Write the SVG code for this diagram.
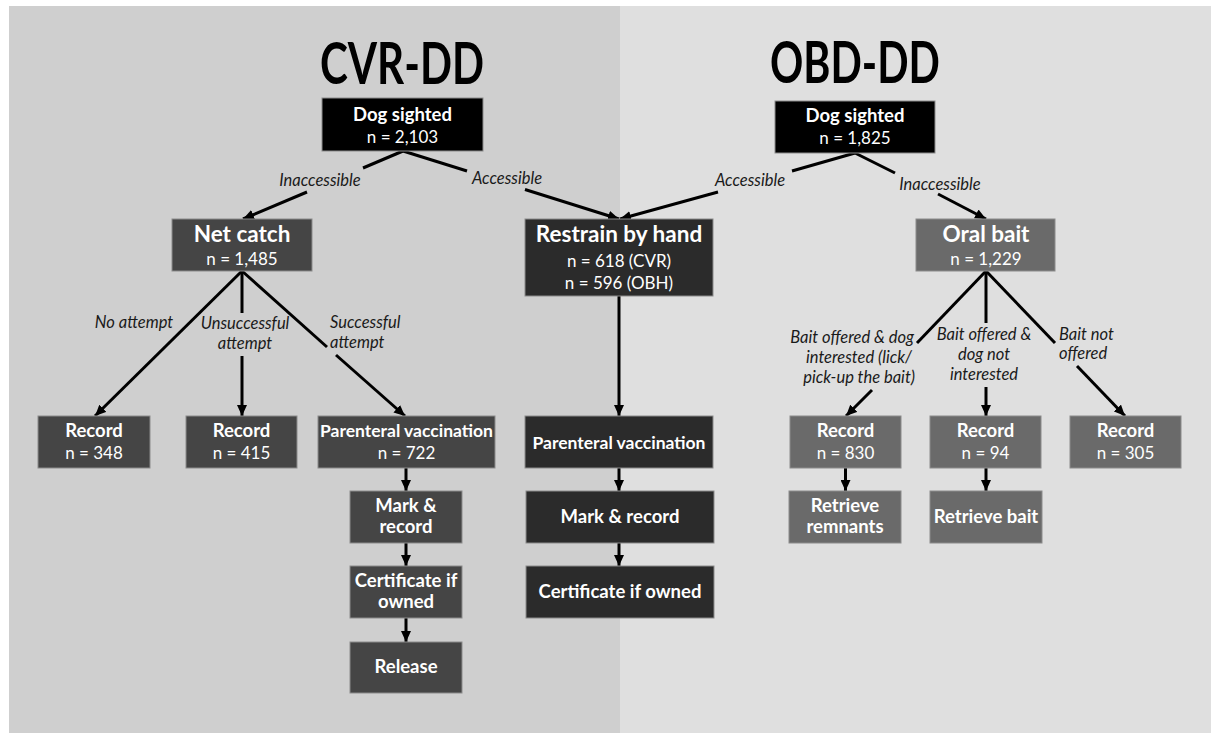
<svg xmlns="http://www.w3.org/2000/svg" width="1211" height="733" viewBox="0 0 1211 733">
<defs>
<marker id="arr" markerUnits="userSpaceOnUse" markerWidth="11" markerHeight="10" refX="11" refY="5" orient="auto">
<path d="M0,0 L11,5 L0,10 z" fill="#000"/>
</marker>
<style>
.bx{stroke:#8c8c8c;stroke-width:1}
.blk{fill:#000}
.d1{fill:#454545}
.d2{fill:#2b2b2b}
.d3{fill:#6a6a6a}
text{font-family:Lato,"Liberation Sans",sans-serif;fill:#fff;text-anchor:middle}
.t{font-weight:bold;font-size:18.5px}
.tb{font-weight:bold;font-size:22.5px}
.n{font-size:17px}
.ttl{font-weight:bold;font-size:58px;fill:#000}
.lb{font-style:italic;font-size:16.5px;fill:#1a1a1a}
.c line,.c path{stroke:#000;stroke-width:3;fill:none}
</style>
</defs>
<rect x="0" y="0" width="1211" height="733" fill="#fff"/>
<rect x="9" y="6" width="611" height="727" fill="#cfcfcf"/>
<rect x="620" y="6" width="591" height="727" fill="#dfdfdf"/>
<text class="ttl" x="402" y="84" textLength="164" lengthAdjust="spacingAndGlyphs">CVR-DD</text>
<text class="ttl" x="855" y="83" textLength="170" lengthAdjust="spacingAndGlyphs">OBD-DD</text>

<g class="c" id="connectors">
<line x1="403" y1="151" x2="363" y2="168"/>
<line x1="307" y1="192" x2="243" y2="219" marker-end="url(#arr)"/>
<line x1="403" y1="151" x2="467" y2="171"/>
<line x1="525" y1="189.5" x2="619" y2="219" marker-end="url(#arr)"/>
<line x1="855" y1="153" x2="792" y2="171"/>
<line x1="718" y1="192" x2="620" y2="219" marker-end="url(#arr)"/>
<line x1="855" y1="153" x2="895" y2="173"/>
<line x1="938" y1="194" x2="986" y2="219" marker-end="url(#arr)"/>
<line x1="242" y1="271" x2="95" y2="416" marker-end="url(#arr)"/>
<line x1="242" y1="271" x2="242" y2="313"/>
<line x1="242" y1="356" x2="242" y2="416" marker-end="url(#arr)"/>
<line x1="242" y1="271" x2="327" y2="347"/>
<line x1="336" y1="355" x2="405" y2="416" marker-end="url(#arr)"/>
<line x1="619" y1="296" x2="619" y2="416" marker-end="url(#arr)"/>
<line x1="406" y1="468" x2="406" y2="491" marker-end="url(#arr)"/>
<line x1="406" y1="543" x2="406" y2="566" marker-end="url(#arr)"/>
<line x1="406" y1="618" x2="406" y2="642" marker-end="url(#arr)"/>
<line x1="619" y1="468" x2="619" y2="491" marker-end="url(#arr)"/>
<line x1="619" y1="543" x2="619" y2="566" marker-end="url(#arr)"/>
<line x1="986" y1="271" x2="917" y2="343"/>
<line x1="872" y1="390" x2="846" y2="416" marker-end="url(#arr)"/>
<line x1="986" y1="271" x2="986" y2="323"/>
<line x1="986" y1="387" x2="986" y2="416" marker-end="url(#arr)"/>
<line x1="986" y1="271" x2="1055" y2="343"/>
<line x1="1077" y1="366" x2="1125" y2="416" marker-end="url(#arr)"/>
<line x1="845.5" y1="468" x2="845.5" y2="491" marker-end="url(#arr)"/>
<line x1="986" y1="468" x2="986" y2="491" marker-end="url(#arr)"/>
</g>

<g id="labels">
<text class="lb" x="320" y="186">Inaccessible</text>
<text class="lb" x="507" y="184">Accessible</text>
<text class="lb" x="750" y="186">Accessible</text>
<text class="lb" x="940" y="190">Inaccessible</text>
<text class="lb" x="134" y="328">No attempt</text>
<text class="lb" x="245" y="329">Unsuccessful</text>
<text class="lb" x="245" y="349">attempt</text>
<text class="lb" x="330" y="328" style="text-anchor:start">Successful</text>
<text class="lb" x="330" y="348" style="text-anchor:start">attempt</text>
<text class="lb" x="914" y="343" style="text-anchor:end">Bait offered &amp; dog</text>
<text class="lb" x="912" y="363" style="text-anchor:end">interested (lick/</text>
<text class="lb" x="915" y="383" style="text-anchor:end">pick-up the bait)</text>
<text class="lb" x="984" y="340">Bait offered &amp;</text>
<text class="lb" x="984" y="360">dog not</text>
<text class="lb" x="984" y="380">interested</text>
<text class="lb" x="1059" y="340" style="text-anchor:start">Bait not</text>
<text class="lb" x="1059" y="359" style="text-anchor:start">offered</text>
</g>

<g id="cvr-dog"><rect class="bx blk" x="322" y="98" width="161" height="53"/><text class="t" x="402.5" y="121">Dog sighted</text><text class="n" x="402.5" y="143">n = 2,103</text></g>
<g id="obd-dog"><rect class="bx blk" x="775" y="101" width="160" height="52"/><text class="t" x="855" y="122">Dog sighted</text><text class="n" x="855" y="144">n = 1,825</text></g>
<g id="net-catch"><rect class="bx d1" x="172" y="219" width="140" height="52"/><text class="tb" x="242" y="242">Net catch</text><text class="n" x="242" y="265">n = 1,485</text></g>
<g id="restrain"><rect class="bx d2" x="525" y="219" width="188" height="77"/><text class="tb" x="619" y="242">Restrain by hand</text><text class="n" x="619" y="267">n = 618 (CVR)</text><text class="n" x="619" y="289">n = 596 (OBH)</text></g>
<g id="oral-bait"><rect class="bx d3" x="916" y="219" width="139" height="52"/><text class="tb" x="986" y="242">Oral bait</text><text class="n" x="986" y="265">n = 1,229</text></g>
<g id="rec-348"><rect class="bx d1" x="38" y="416" width="112" height="52"/><text class="t" x="94" y="437">Record</text><text class="n" x="94" y="459">n = 348</text></g>
<g id="rec-415"><rect class="bx d1" x="186" y="416" width="111" height="52"/><text class="t" x="241.5" y="437">Record</text><text class="n" x="241.5" y="459">n = 415</text></g>
<g id="pv-722"><rect class="bx d1" x="318" y="416" width="177" height="52"/><text class="t" x="406.5" y="437" style="font-size:17.5px">Parenteral vaccination</text><text class="n" x="406.5" y="459">n = 722</text></g>
<g id="pv-r"><rect class="bx d2" x="525" y="416" width="188" height="52"/><text class="t" x="619" y="449" style="font-size:17.5px">Parenteral vaccination</text></g>
<g id="rec-830"><rect class="bx d3" x="790" y="416" width="111" height="52"/><text class="t" x="845.5" y="437">Record</text><text class="n" x="845.5" y="459">n = 830</text></g>
<g id="rec-94"><rect class="bx d3" x="930" y="416" width="111" height="52"/><text class="t" x="985.5" y="437">Record</text><text class="n" x="985.5" y="459">n = 94</text></g>
<g id="rec-305"><rect class="bx d3" x="1070" y="416" width="111" height="52"/><text class="t" x="1125.5" y="437">Record</text><text class="n" x="1125.5" y="459">n = 305</text></g>
<g id="mark-l"><rect class="bx d1" x="350" y="491" width="112" height="52"/><text class="t" x="406" y="512">Mark &amp;</text><text class="t" x="406" y="533">record</text></g>
<g id="cert-l"><rect class="bx d1" x="350" y="566" width="112" height="52"/><text class="t" x="406" y="587">Certificate if</text><text class="t" x="406" y="608">owned</text></g>
<g id="release"><rect class="bx d1" x="350" y="642" width="112" height="51"/><text class="t" x="406" y="673">Release</text></g>
<g id="mark-r"><rect class="bx d2" x="526" y="491" width="188" height="52"/><text class="t" x="620" y="523">Mark &amp; record</text></g>
<g id="cert-r"><rect class="bx d2" x="526" y="566" width="188" height="52"/><text class="t" x="620" y="598">Certificate if owned</text></g>
<g id="retr-rem"><rect class="bx d3" x="789" y="491" width="112" height="52"/><text class="t" x="845" y="512">Retrieve</text><text class="t" x="845" y="533">remnants</text></g>
<g id="retr-bait"><rect class="bx d3" x="930" y="491" width="112" height="52"/><text class="t" x="986" y="523">Retrieve bait</text></g>
</svg>
